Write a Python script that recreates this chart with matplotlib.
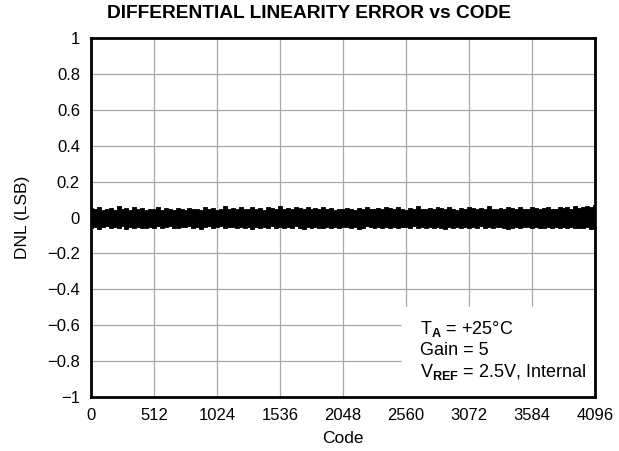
import matplotlib
matplotlib.use('Agg')
import matplotlib.pyplot as plt
import numpy as np

# envelope of the DNL noise band, read every 32 codes
codes = list(range(0, 4097, 32))
dnl_upper = [0.052, 0.045, 0.058, 0.041, 0.049, 0.055, 0.043, 0.062, 0.047, 0.051,
             0.044, 0.057, 0.048, 0.053, 0.042, 0.05, 0.046, 0.059, 0.044, 0.052,
             0.048, 0.043, 0.055, 0.049, 0.041, 0.053, 0.047, 0.05, 0.044, 0.058,
             0.046, 0.051, 0.043, 0.049, 0.064, 0.048, 0.052, 0.045, 0.056, 0.05,
             0.047, 0.06, 0.049, 0.054, 0.044, 0.058, 0.051, 0.047, 0.062, 0.05,
             0.055, 0.046, 0.059, 0.052, 0.048, 0.057, 0.045, 0.053, 0.049, 0.061,
             0.047, 0.052, 0.044, 0.05, 0.046, 0.055, 0.048, 0.043, 0.052, 0.047,
             0.058, 0.05, 0.045, 0.054, 0.049, 0.06, 0.051, 0.046, 0.056, 0.05,
             0.044, 0.053, 0.048, 0.062, 0.05, 0.047, 0.055, 0.049, 0.059, 0.052,
             0.046, 0.057, 0.05, 0.044, 0.053, 0.048, 0.06, 0.051, 0.047, 0.055,
             0.049, 0.063, 0.05, 0.046, 0.054, 0.048, 0.058, 0.052, 0.045, 0.056,
             0.05, 0.047, 0.059, 0.052, 0.048, 0.055, 0.061, 0.05, 0.046, 0.057,
             0.052, 0.058, 0.049, 0.062, 0.055, 0.06, 0.066, 0.058, 0.072]
dnl_lower = [-0.058, -0.051, -0.062, -0.055, -0.049, -0.06, -0.053, -0.057, -0.05, -0.064,
             -0.054, -0.058, -0.051, -0.056, -0.061, -0.052, -0.057, -0.05, -0.059, -0.054,
             -0.048, -0.056, -0.06, -0.052, -0.055, -0.05, -0.058, -0.053, -0.062, -0.055,
             -0.05, -0.057, -0.053, -0.049, -0.059, -0.055, -0.052, -0.06, -0.054, -0.057,
             -0.051, -0.063, -0.055, -0.058, -0.052, -0.056, -0.05, -0.059, -0.054, -0.061,
             -0.053, -0.057, -0.05, -0.056, -0.066, -0.054, -0.058, -0.052, -0.056, -0.06,
             -0.053, -0.057, -0.051, -0.059, -0.055, -0.052, -0.058, -0.054, -0.062, -0.056,
             -0.05, -0.055, -0.059, -0.053, -0.057, -0.051, -0.058, -0.055, -0.061, -0.054,
             -0.052, -0.057, -0.05, -0.06, -0.055, -0.058, -0.053, -0.056, -0.051, -0.059,
             -0.064, -0.055, -0.058, -0.052, -0.057, -0.054, -0.06, -0.053, -0.056, -0.05,
             -0.058, -0.054, -0.061, -0.055, -0.052, -0.057, -0.065, -0.056, -0.053, -0.059,
             -0.055, -0.051, -0.058, -0.054, -0.06, -0.056, -0.052, -0.057, -0.054, -0.061,
             -0.055, -0.058, -0.053, -0.06, -0.056, -0.059, -0.054, -0.062, -0.058]
x_ticks = [0, 512, 1024, 1536, 2048, 2560, 3072, 3584, 4096]
y_ticks = [-1, -0.8, -0.6, -0.4, -0.2, 0, 0.2, 0.4, 0.6, 0.8, 1]
y_labels = ['\u22121', '\u22120.8', '\u22120.6', '\u22120.4', '\u22120.2', '0',
            '0.2', '0.4', '0.6', '0.8', '1']

plt.rcParams['font.family'] = ['Liberation Sans', 'DejaVu Sans']
plt.rcParams['mathtext.fontset'] = 'custom'
plt.rcParams['mathtext.rm'] = 'Liberation Sans'
plt.rcParams['mathtext.bf'] = 'Liberation Sans:bold'

fig = plt.figure(figsize=(6.19, 4.51), dpi=100)
ax = fig.add_axes([91 / 619, 1 - 397 / 451, 504 / 619, 359 / 451])

ax.fill_between(codes, dnl_lower, dnl_upper, step='mid', color='black',
                linewidth=0.6, zorder=3)

ax.set_xlim(0, 4096)
ax.set_ylim(-1, 1)
ax.set_xticks(x_ticks)
ax.set_yticks(y_ticks)
ax.set_yticklabels(y_labels)
ax.tick_params(length=0, labelsize=12, pad=8)
ax.grid(True, color='#a8a8a8', linewidth=0.9)
ax.set_axisbelow(True)
for s in ax.spines.values():
    s.set_linewidth(2)

# white box behind the conditions text
ax.fill_between([2525, 4096], -1, -0.5, color='white', zorder=2)
ax.text(2674, -0.74, 'T$_{\\mathbf{A}}$ = +25\u00b0C\nGain = 5\nV$_{\\mathbf{REF}}$ = 2.5V, Internal',
        fontsize=13, va='center', ha='left', linespacing=1.22, zorder=4)

fig.text(0.499, 1 - 14 / 451, 'DIFFERENTIAL LINEARITY ERROR vs CODE', fontsize=13.8,
         fontweight='bold', ha='center', va='center')
ax.set_xlabel('Code', fontsize=12.5)
ax.set_ylabel('DNL (LSB)', fontsize=12.5)
ax.xaxis.set_label_coords((343 - 91) / 504, (397 - 431) / 359)
ax.yaxis.set_label_coords((30 - 91) / 504, 0.5)

fig.savefig('out.png', dpi=100)
